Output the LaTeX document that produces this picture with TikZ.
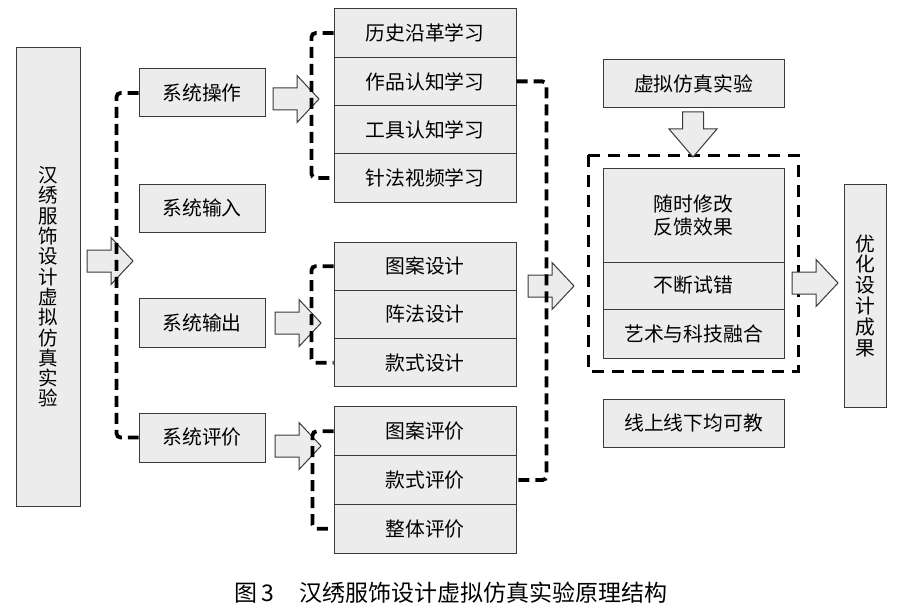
\documentclass[tikz,border=0pt]{standalone}
\usepackage{fontspec}
\newfontfamily\cjk{Noto Sans CJK SC}
\definecolor{boxfill}{HTML}{ECECEC}
\definecolor{boxline}{HTML}{3A3A3A}
\tikzset{
  box/.style={draw=boxline, fill=boxfill, line width=1pt, inner sep=0pt, minimum width=#1, font=\cjk\fontsize{19.8}{21}\selectfont, align=center},
  box/.default=126pt,
  dashline/.style={line width=3.8pt, dash pattern=on 11pt off 6pt, rounded corners=4pt},
  dashframe/.style={line width=3pt, dash pattern=on 12pt off 8pt},
  blockarrow/.style={draw=boxline, fill=boxfill, line width=1pt, line join=miter},
  harrow/.pic={\path[blockarrow] (0,-11) -- (24,-11) -- (24,-23.5) -- (46,0) -- (24,23.5) -- (24,11) -- (0,11) -- cycle;},
  varrow/.pic={\path[blockarrow] (-10.5,0) -- (10.5,0) -- (10.5,17) -- (24,17) -- (0,45) -- (-24,17) -- (-10.5,17) -- cycle;}
}
\begin{document}
\begin{tikzpicture}[x=1pt,y=-1pt]
\useasboundingbox (0,0) rectangle (898,610);
% left source box
\node[box=64pt, minimum height=458pt] (src) at (48,277) {};
\node[font=\cjk\fontsize{19.5}{20.3}\selectfont, align=center, inner sep=0pt] (srct) at (48,287) {汉\\绣\\服\\饰\\设\\计\\虚\\拟\\仿\\真\\实\\验};
% system boxes
\node[box, minimum height=48pt] (op) at (202,93) {系统操作};
\node[box, minimum height=48pt] (inp) at (202,208) {系统输入};
\node[box, minimum height=49pt] (out) at (202,322.5) {系统输出};
\node[box, minimum height=49pt] (ev) at (202,437.5) {系统评价};
% stack 1
\node[box=182pt, minimum height=48.25pt] (s11) at (425,33.1) {历史沿革学习};
\node[box=182pt, minimum height=48.25pt] (s12) at (425,81.4) {作品认知学习};
\node[box=182pt, minimum height=48.25pt] (s13) at (425,129.6) {工具认知学习};
\node[box=182pt, minimum height=48.25pt] (s14) at (425,177.9) {针法视频学习};
% stack 2
\node[box=182pt, minimum height=48.33pt] (s21) at (425,266.2) {图案设计};
\node[box=182pt, minimum height=48.33pt] (s22) at (425,314.5) {阵法设计};
\node[box=182pt, minimum height=48.33pt] (s23) at (425,362.8) {款式设计};
% stack 3
\node[box=182pt, minimum height=48.7pt] (s31) at (425,431.3) {图案评价};
\node[box=182pt, minimum height=48.7pt] (s32) at (425,480) {款式评价};
\node[box=182pt, minimum height=48.7pt] (s33) at (425,528.7) {整体评价};
% right part
\node[box=181pt, minimum height=48pt] (vr) at (693.5,84) {虚拟仿真实验};
\node[box=181pt, minimum height=94pt, font=\cjk\fontsize{19.8}{23}\selectfont] (f1) at (693.5,215) {随时修改\\反馈效果};
\node[box=181pt, minimum height=47pt] (f2) at (693.5,285.5) {不断试错};
\node[box=181pt, minimum height=49pt] (f3) at (693.5,333.5) {艺术与科技融合};
\node[box=181pt, minimum height=48pt] (onl) at (693.5,423) {线上线下均可教};
\node[box=42pt, minimum height=223pt, font=\cjk\fontsize{19.8}{20.8}\selectfont] (res) at (865,295.5) {优\\化\\设\\计\\成\\果};
\draw[dashframe] (588,155) rectangle (798,371);
% block arrows
\pic at (87,261) {harrow};
\pic at (273,99) {harrow};
\pic at (275,323) {harrow};
\pic at (275,446) {harrow};
\pic at (528,286) {harrow};
\pic at (792,283) {harrow};
\pic at (693,112) {varrow};
% dashed brackets
\draw[dashline] (op.west) -- ++(-22,0) |- (ev.west);
\draw[dashline] (s11.west) -- ++(-22,0) |- (s14.west);
\draw[dashline] (s21.west) -- ++(-22,0) |- (s23.west);
\draw[dashline] (s31.west) -- ++(-21,0) |- (s33.west);
\draw[dashline] (s12.east) -- ++(30,0) |- (s32.east);
% caption
\node[font=\cjk\fontsize{23}{25}\selectfont, inner sep=0pt] (cap) at (451,593) {图\,3\hspace{1.1em}汉绣服饰设计虚拟仿真实验原理结构};
\end{tikzpicture}
\end{document}
